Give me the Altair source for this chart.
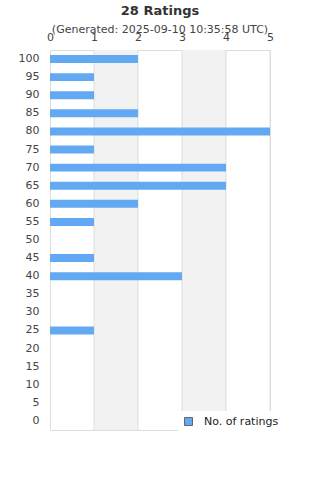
import altair as alt
import pandas as pd

categories = [100, 95, 90, 85, 80, 75, 70, 65, 60, 55, 50, 45, 40, 35, 30, 25, 20, 15, 10, 5, 0]
counts = [2, 1, 1, 2, 5, 1, 4, 4, 2, 1, 0, 1, 3, 0, 0, 1, 0, 0, 0, 0, 0]
series_name = "No. of ratings"
band_starts = [1, 3]
band_ends = [2, 4]
grid_ticks = [1, 2, 3, 4, 5]

df = pd.DataFrame({"rating": categories, "count": counts, "series": series_name})
bands = pd.DataFrame({"x": band_starts, "x2": band_ends})
grid = pd.DataFrame({"x": grid_ticks})

W, H = 220, 380
xscale = alt.Scale(domain=[0, 5], nice=False, zero=True)

band_layer = alt.Chart(bands).mark_rect(color="#f2f2f2").encode(
    x=alt.X("x:Q", scale=xscale, axis=alt.Axis(orient="top", values=[0, 1, 2, 3, 4, 5], grid=False,
              ticks=False, domain=False, labelPadding=8, labelFontSize=11, labelColor="#444",
              labelFlush=False, labelOverlap=False, title=None, format="d")),
    x2="x2:Q",
    y=alt.value(0),
    y2=alt.value(H),
)

grid_layer = alt.Chart(grid).mark_rule(color="#dddddd", strokeWidth=1).encode(
    x=alt.X("x:Q", scale=xscale),
    y=alt.value(0),
    y2=alt.value(H),
)

bars = alt.Chart(df).mark_bar().encode(
    x=alt.X("count:Q", scale=xscale),
    y=alt.Y("rating:O", sort=categories,
            scale=alt.Scale(paddingInner=0.56, paddingOuter=0.28),
            axis=alt.Axis(ticks=False, domain=False, labelPadding=11, labelFontSize=11,
                          labelColor="#444", title=None, grid=False)),
    color=alt.Color("series:N", scale=alt.Scale(range=["#62a8f2"]),
                    legend=alt.Legend(orient="none", legendX=128, legendY=361, title=None,
                                      fillColor="white", padding=5, symbolType="square",
                                      symbolSize=64, symbolStrokeColor="#666",
                                      symbolStrokeWidth=1, labelFontSize=11, labelColor="#222",
                                      labelOffset=10)),
)

chart = alt.layer(band_layer, grid_layer, bars).properties(
    width=W, height=H,
    autosize=alt.AutoSizeParams(type="none"),
    padding={"left": 50, "top": 50, "right": 50, "bottom": 50},
    title=alt.TitleParams(text="28 Ratings", subtitle="(Generated: 2025-09-10 10:35:58 UTC)",
                          fontSize=13, subtitleFontSize=11, anchor="middle", color="#333",
                          subtitleColor="#444", offset=-4, subtitlePadding=6,
                          fontWeight="bold", subtitleFontWeight="normal"),
).configure(font="DejaVu Sans").configure_view(stroke="#dddddd")

chart.save("out.html", embed_options={"renderer": "svg", "actions": False})
